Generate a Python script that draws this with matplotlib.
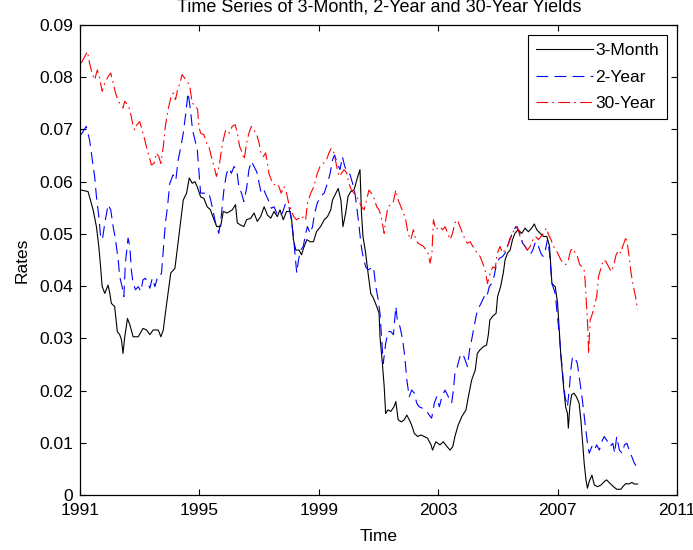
import matplotlib
matplotlib.use('Agg')
import matplotlib.pyplot as plt
import numpy as np

plt.rcParams['font.family'] = ['Liberation Sans', 'DejaVu Sans']
plt.rcParams['lines.scale_dashes'] = False

# 3-month T-bill
t_3m = [1991.04, 1991.27, 1991.44, 1991.55, 1991.63, 1991.69, 1991.74, 1991.83, 1991.94, 1992.00,
        1992.05, 1992.16, 1992.25, 1992.33, 1992.39, 1992.44, 1992.50, 1992.59, 1992.67, 1992.78,
        1992.95, 1993.11, 1993.23, 1993.34, 1993.45, 1993.62, 1993.71, 1993.79, 1993.86, 1993.95,
        1994.04, 1994.18, 1994.27, 1994.35, 1994.46, 1994.57, 1994.66, 1994.76, 1994.85, 1994.93,
        1995.04, 1995.15, 1995.26, 1995.37, 1995.49, 1995.58, 1995.71, 1995.80, 1995.93, 1996.10,
        1996.21, 1996.27, 1996.38, 1996.49, 1996.58, 1996.72, 1996.83, 1996.94, 1997.05, 1997.17,
        1997.28, 1997.39, 1997.50, 1997.61, 1997.70, 1997.81, 1997.92, 1998.04, 1998.09, 1998.15,
        1998.23, 1998.34, 1998.42, 1998.51, 1998.60, 1998.71, 1998.82, 1998.93, 1999.06, 1999.18,
        1999.29, 1999.40, 1999.46, 1999.57, 1999.65, 1999.74, 1999.81, 1999.90, 1999.98, 2000.07,
        2000.18, 2000.29, 2000.38, 2000.43, 2000.48, 2000.57, 2000.65, 2000.74, 2000.83, 2000.94,
        2001.02, 2001.05, 2001.13, 2001.19, 2001.24, 2001.32, 2001.41, 2001.52, 2001.58, 2001.66,
        2001.77, 2001.86, 2001.95, 2002.03, 2002.11, 2002.20, 2002.31, 2002.42, 2002.53, 2002.64,
        2002.76, 2002.81, 2002.92, 2003.06, 2003.17, 2003.29, 2003.40, 2003.49, 2003.56, 2003.67,
        2003.79, 2003.93, 2004.01, 2004.12, 2004.24, 2004.31, 2004.40, 2004.51, 2004.62, 2004.68,
        2004.73, 2004.82, 2004.94, 2004.99, 2005.09, 2005.18, 2005.24, 2005.32, 2005.41, 2005.49,
        2005.57, 2005.68, 2005.80, 2005.91, 2006.02, 2006.13, 2006.22, 2006.30, 2006.42, 2006.53,
        2006.64, 2006.73, 2006.81, 2006.92, 2007.00, 2007.05, 2007.11, 2007.16, 2007.22, 2007.27,
        2007.33, 2007.36, 2007.41, 2007.47, 2007.55, 2007.63, 2007.72, 2007.78, 2007.83, 2007.89,
        2007.95, 2008.00, 2008.06, 2008.15, 2008.23, 2008.34, 2008.45, 2008.57, 2008.64, 2008.76,
        2008.87, 2008.98, 2009.12, 2009.20, 2009.29, 2009.38, 2009.49, 2009.57, 2009.68]
r_3m = [0.0584, 0.0581, 0.0546, 0.0514, 0.0476, 0.0437, 0.0400, 0.0386, 0.0402, 0.0386,
        0.0367, 0.0361, 0.0313, 0.0307, 0.0297, 0.0271, 0.0303, 0.0338, 0.0326, 0.0303,
        0.0303, 0.0319, 0.0316, 0.0307, 0.0316, 0.0316, 0.0303, 0.0316, 0.0348, 0.0386,
        0.0425, 0.0434, 0.0476, 0.0514, 0.0565, 0.0578, 0.0607, 0.0597, 0.0600, 0.0590,
        0.0571, 0.0568, 0.0552, 0.0546, 0.0527, 0.0514, 0.0514, 0.0543, 0.0540, 0.0546,
        0.0556, 0.0521, 0.0517, 0.0514, 0.0527, 0.0530, 0.0540, 0.0524, 0.0533, 0.0552,
        0.0536, 0.0530, 0.0543, 0.0533, 0.0546, 0.0527, 0.0543, 0.0543, 0.0527, 0.0489,
        0.0469, 0.0469, 0.0460, 0.0476, 0.0489, 0.0485, 0.0485, 0.0505, 0.0514, 0.0527,
        0.0533, 0.0546, 0.0565, 0.0578, 0.0587, 0.0565, 0.0514, 0.0540, 0.0572, 0.0581,
        0.0584, 0.0607, 0.0623, 0.0540, 0.0495, 0.0463, 0.0425, 0.0386, 0.0377, 0.0361,
        0.0348, 0.0303, 0.0252, 0.0208, 0.0156, 0.0163, 0.0160, 0.0169, 0.0179, 0.0144,
        0.0140, 0.0144, 0.0153, 0.0144, 0.0134, 0.0118, 0.0112, 0.0115, 0.0112, 0.0109,
        0.0096, 0.0086, 0.0102, 0.0096, 0.0102, 0.0093, 0.0086, 0.0093, 0.0112, 0.0134,
        0.0150, 0.0163, 0.0188, 0.0220, 0.0239, 0.0271, 0.0278, 0.0284, 0.0287, 0.0307,
        0.0335, 0.0342, 0.0348, 0.0380, 0.0399, 0.0425, 0.0450, 0.0463, 0.0469, 0.0489,
        0.0501, 0.0508, 0.0501, 0.0511, 0.0504, 0.0511, 0.0519, 0.0508, 0.0501, 0.0495,
        0.0495, 0.0476, 0.0405, 0.0399, 0.0367, 0.0322, 0.0265, 0.0233, 0.0195, 0.0169,
        0.0156, 0.0128, 0.0169, 0.0192, 0.0195, 0.0188, 0.0176, 0.0144, 0.0105, 0.0061,
        0.0029, 0.0013, 0.0026, 0.0038, 0.0019, 0.0016, 0.0019, 0.0026, 0.0029, 0.0022,
        0.0016, 0.0011, 0.0011, 0.0017, 0.0022, 0.0021, 0.0024, 0.0021, 0.0021]

# 2-year note
t_2y = [1991.04, 1991.21, 1991.32, 1991.38, 1991.49, 1991.55, 1991.63, 1991.69, 1991.75, 1991.83,
        1991.94, 1992.03, 1992.11, 1992.19, 1992.28, 1992.33, 1992.41, 1992.47, 1992.52, 1992.61,
        1992.67, 1992.72, 1992.78, 1992.86, 1992.95, 1993.04, 1993.11, 1993.19, 1993.28, 1993.34,
        1993.42, 1993.51, 1993.60, 1993.67, 1993.73, 1993.79, 1993.86, 1993.93, 1994.01, 1994.12,
        1994.21, 1994.29, 1994.38, 1994.46, 1994.53, 1994.62, 1994.70, 1994.77, 1994.85, 1994.93,
        1994.98, 1995.04, 1995.15, 1995.32, 1995.43, 1995.54, 1995.65, 1995.73, 1995.82, 1995.91,
        1995.99, 1996.07, 1996.16, 1996.25, 1996.32, 1996.41, 1996.49, 1996.58, 1996.66, 1996.74,
        1996.83, 1996.92, 1997.00, 1997.07, 1997.16, 1997.25, 1997.33, 1997.41, 1997.50, 1997.59,
        1997.67, 1997.78, 1997.89, 1998.00, 1998.08, 1998.15, 1998.20, 1998.26, 1998.32, 1998.39,
        1998.48, 1998.56, 1998.62, 1998.71, 1998.79, 1998.86, 1998.95, 1999.06, 1999.18, 1999.29,
        1999.38, 1999.46, 1999.53, 1999.62, 1999.71, 1999.79, 1999.87, 1999.96, 2000.05, 2000.13,
        2000.21, 2000.27, 2000.35, 2000.41, 2000.46, 2000.57, 2000.65, 2000.74, 2000.83, 2000.91,
        2000.99, 2001.05, 2001.11, 2001.16, 2001.24, 2001.32, 2001.41, 2001.50, 2001.58, 2001.63,
        2001.72, 2001.81, 2001.88, 2001.95, 2002.03, 2002.11, 2002.20, 2002.28, 2002.36, 2002.48,
        2002.59, 2002.70, 2002.78, 2002.87, 2002.95, 2003.04, 2003.12, 2003.23, 2003.34, 2003.45,
        2003.51, 2003.56, 2003.64, 2003.73, 2003.82, 2003.90, 2003.98, 2004.05, 2004.12, 2004.20,
        2004.29, 2004.38, 2004.46, 2004.54, 2004.62, 2004.71, 2004.79, 2004.87, 2004.96, 2005.05,
        2005.16, 2005.24, 2005.32, 2005.41, 2005.49, 2005.60, 2005.68, 2005.76, 2005.83, 2005.91,
        2005.99, 2006.08, 2006.17, 2006.26, 2006.36, 2006.44, 2006.51, 2006.59, 2006.66, 2006.73,
        2006.81, 2006.92, 2007.03, 2007.11, 2007.19, 2007.25, 2007.33, 2007.39, 2007.44, 2007.50,
        2007.59, 2007.66, 2007.74, 2007.83, 2007.92, 2008.00, 2008.06, 2008.15, 2008.23, 2008.31,
        2008.40, 2008.48, 2008.56, 2008.68, 2008.76, 2008.85, 2008.91, 2008.98, 2009.07, 2009.16,
        2009.24, 2009.32, 2009.40, 2009.49, 2009.57, 2009.68]
r_2y = [0.0690, 0.0706, 0.0680, 0.0655, 0.0610, 0.0572, 0.0533, 0.0495, 0.0489, 0.0520,
        0.0556, 0.0546, 0.0514, 0.0489, 0.0450, 0.0418, 0.0399, 0.0380, 0.0444, 0.0492,
        0.0476, 0.0431, 0.0405, 0.0393, 0.0399, 0.0390, 0.0412, 0.0415, 0.0405, 0.0396,
        0.0415, 0.0399, 0.0418, 0.0418, 0.0425, 0.0469, 0.0520, 0.0552, 0.0597, 0.0613,
        0.0603, 0.0642, 0.0667, 0.0693, 0.0725, 0.0770, 0.0738, 0.0699, 0.0680, 0.0661,
        0.0623, 0.0578, 0.0578, 0.0578, 0.0552, 0.0521, 0.0501, 0.0533, 0.0584, 0.0616,
        0.0626, 0.0616, 0.0629, 0.0623, 0.0591, 0.0578, 0.0562, 0.0587, 0.0623, 0.0639,
        0.0629, 0.0619, 0.0597, 0.0578, 0.0584, 0.0572, 0.0562, 0.0549, 0.0552, 0.0540,
        0.0533, 0.0540, 0.0559, 0.0552, 0.0527, 0.0495, 0.0463, 0.0425, 0.0450, 0.0469,
        0.0476, 0.0501, 0.0514, 0.0501, 0.0514, 0.0540, 0.0559, 0.0572, 0.0578, 0.0597,
        0.0616, 0.0642, 0.0651, 0.0635, 0.0623, 0.0648, 0.0629, 0.0619, 0.0613, 0.0597,
        0.0578, 0.0552, 0.0514, 0.0482, 0.0463, 0.0437, 0.0431, 0.0434, 0.0437, 0.0399,
        0.0374, 0.0348, 0.0297, 0.0252, 0.0290, 0.0313, 0.0313, 0.0307, 0.0361, 0.0335,
        0.0322, 0.0297, 0.0265, 0.0220, 0.0188, 0.0201, 0.0195, 0.0176, 0.0169, 0.0166,
        0.0163, 0.0153, 0.0147, 0.0176, 0.0188, 0.0169, 0.0188, 0.0201, 0.0188, 0.0176,
        0.0201, 0.0233, 0.0246, 0.0265, 0.0271, 0.0259, 0.0246, 0.0278, 0.0297, 0.0322,
        0.0348, 0.0361, 0.0370, 0.0380, 0.0377, 0.0399, 0.0405, 0.0418, 0.0444, 0.0453,
        0.0457, 0.0463, 0.0476, 0.0492, 0.0501, 0.0514, 0.0508, 0.0498, 0.0482, 0.0476,
        0.0469, 0.0460, 0.0469, 0.0485, 0.0476, 0.0463, 0.0457, 0.0469, 0.0489, 0.0463,
        0.0405, 0.0386, 0.0322, 0.0271, 0.0220, 0.0188, 0.0169, 0.0201, 0.0239, 0.0265,
        0.0262, 0.0252, 0.0220, 0.0182, 0.0137, 0.0099, 0.0080, 0.0093, 0.0086, 0.0096,
        0.0086, 0.0102, 0.0112, 0.0102, 0.0093, 0.0099, 0.0080, 0.0112, 0.0086, 0.0080,
        0.0096, 0.0099, 0.0086, 0.0073, 0.0061, 0.0051]

# 30-year bond
t_30y = [1991.04, 1991.16, 1991.25, 1991.32, 1991.40, 1991.49, 1991.58, 1991.66, 1991.74, 1991.83,
         1991.94, 1992.03, 1992.11, 1992.19, 1992.28, 1992.37, 1992.44, 1992.50, 1992.59, 1992.67,
         1992.75, 1992.83, 1992.91, 1993.00, 1993.08, 1993.17, 1993.25, 1993.32, 1993.39, 1993.48,
         1993.56, 1993.64, 1993.71, 1993.79, 1993.86, 1993.95, 1994.04, 1994.12, 1994.20, 1994.27,
         1994.35, 1994.42, 1994.51, 1994.60, 1994.68, 1994.76, 1994.85, 1994.94, 1994.98, 1995.04,
         1995.15, 1995.24, 1995.32, 1995.40, 1995.49, 1995.57, 1995.66, 1995.74, 1995.80, 1995.88,
         1996.00, 1996.10, 1996.20, 1996.27, 1996.35, 1996.42, 1996.50, 1996.58, 1996.66, 1996.74,
         1996.83, 1996.92, 1997.00, 1997.06, 1997.14, 1997.22, 1997.28, 1997.33, 1997.41, 1997.50,
         1997.58, 1997.66, 1997.74, 1997.83, 1997.92, 1997.99, 1998.07, 1998.16, 1998.25, 1998.33,
         1998.41, 1998.48, 1998.56, 1998.62, 1998.73, 1998.84, 1998.95, 1999.04, 1999.15, 1999.26,
         1999.34, 1999.42, 1999.51, 1999.60, 1999.68, 1999.76, 1999.85, 1999.94, 2000.01, 2000.09,
         2000.18, 2000.27, 2000.35, 2000.43, 2000.52, 2000.60, 2000.68, 2000.76, 2000.85, 2000.94,
         2001.02, 2001.09, 2001.19, 2001.24, 2001.32, 2001.41, 2001.50, 2001.58, 2001.66, 2001.75,
         2001.84, 2001.91, 2001.99, 2002.08, 2002.17, 2002.25, 2002.33, 2002.42, 2002.51, 2002.59,
         2002.66, 2002.73, 2002.79, 2002.84, 2002.92, 2003.04, 2003.15, 2003.23, 2003.32, 2003.40,
         2003.48, 2003.56, 2003.64, 2003.73, 2003.82, 2003.90, 2003.98, 2004.07, 2004.16, 2004.24,
         2004.31, 2004.40, 2004.49, 2004.57, 2004.65, 2004.74, 2004.83, 2004.91, 2004.98, 2005.07,
         2005.16, 2005.24, 2005.32, 2005.41, 2005.49, 2005.57, 2005.65, 2005.74, 2005.83, 2005.91,
         2005.99, 2006.08, 2006.17, 2006.26, 2006.36, 2006.44, 2006.53, 2006.62, 2006.70, 2006.78,
         2006.86, 2006.95, 2007.03, 2007.11, 2007.19, 2007.27, 2007.36, 2007.44, 2007.52, 2007.59,
         2007.66, 2007.74, 2007.83, 2007.89, 2007.92, 2007.97, 2008.01, 2008.04, 2008.09, 2008.17,
         2008.25, 2008.31, 2008.37, 2008.45, 2008.53, 2008.62, 2008.71, 2008.79, 2008.87, 2008.96,
         2009.05, 2009.12, 2009.18, 2009.24, 2009.29, 2009.35, 2009.41, 2009.46, 2009.54, 2009.61,
         2009.68]
r_30y = [0.0827, 0.0840, 0.0849, 0.0827, 0.0808, 0.0795, 0.0814, 0.0798, 0.0773, 0.0789,
         0.0801, 0.0808, 0.0789, 0.0770, 0.0754, 0.0747, 0.0741, 0.0754, 0.0747, 0.0738,
         0.0715, 0.0699, 0.0709, 0.0715, 0.0699, 0.0680, 0.0661, 0.0648, 0.0632, 0.0635,
         0.0655, 0.0648, 0.0635, 0.0667, 0.0706, 0.0738, 0.0760, 0.0770, 0.0757, 0.0776,
         0.0789, 0.0805, 0.0798, 0.0792, 0.0782, 0.0750, 0.0747, 0.0738, 0.0706, 0.0693,
         0.0690, 0.0674, 0.0667, 0.0648, 0.0629, 0.0610, 0.0629, 0.0661, 0.0680, 0.0699,
         0.0693, 0.0706, 0.0709, 0.0693, 0.0667, 0.0658, 0.0642, 0.0674, 0.0693, 0.0706,
         0.0699, 0.0690, 0.0674, 0.0655, 0.0648, 0.0655, 0.0635, 0.0616, 0.0603, 0.0594,
         0.0597, 0.0591, 0.0578, 0.0591, 0.0578, 0.0559, 0.0546, 0.0533, 0.0527, 0.0530,
         0.0527, 0.0533, 0.0527, 0.0559, 0.0578, 0.0591, 0.0616, 0.0629, 0.0635, 0.0642,
         0.0655, 0.0664, 0.0655, 0.0629, 0.0610, 0.0616, 0.0623, 0.0616, 0.0597, 0.0584,
         0.0578, 0.0572, 0.0562, 0.0552, 0.0546, 0.0565, 0.0584, 0.0578, 0.0568, 0.0552,
         0.0546, 0.0533, 0.0501, 0.0527, 0.0552, 0.0556, 0.0562, 0.0584, 0.0565, 0.0552,
         0.0540, 0.0527, 0.0501, 0.0489, 0.0508, 0.0489, 0.0482, 0.0479, 0.0476, 0.0469,
         0.0463, 0.0444, 0.0463, 0.0527, 0.0508, 0.0514, 0.0508, 0.0514, 0.0501, 0.0489,
         0.0501, 0.0521, 0.0527, 0.0514, 0.0501, 0.0489, 0.0482, 0.0485, 0.0476, 0.0469,
         0.0463, 0.0457, 0.0444, 0.0431, 0.0405, 0.0425, 0.0437, 0.0434, 0.0463, 0.0476,
         0.0463, 0.0469, 0.0476, 0.0489, 0.0501, 0.0511, 0.0514, 0.0495, 0.0482, 0.0476,
         0.0469, 0.0476, 0.0489, 0.0495, 0.0489, 0.0495, 0.0501, 0.0511, 0.0498, 0.0489,
         0.0476, 0.0469, 0.0460, 0.0450, 0.0444, 0.0441, 0.0450, 0.0469, 0.0472, 0.0463,
         0.0457, 0.0441, 0.0437, 0.0431, 0.0412, 0.0361, 0.0322, 0.0271, 0.0335, 0.0348,
         0.0367, 0.0380, 0.0418, 0.0434, 0.0450, 0.0447, 0.0437, 0.0428, 0.0437, 0.0460,
         0.0469, 0.0463, 0.0476, 0.0485, 0.0495, 0.0476, 0.0450, 0.0425, 0.0399, 0.0380,
         0.0355]

fig = plt.figure(figsize=(6.93, 5.5), dpi=100)
ax = fig.add_axes([80 / 693, 55 / 550, 597 / 693, 470 / 550])

ax.plot(t_3m, r_3m, color='k', lw=0.8, label='3-Month')
ax.plot(t_2y, r_2y, color='b', lw=0.8, dashes=(8.5, 4.5), label='2-Year')
ax.plot(t_30y, r_30y, color='r', lw=0.8, dashes=(8.5, 3, 1.2, 3), label='30-Year')

ax.set_xlim(1991, 2011)
ax.set_ylim(0, 0.09)
ax.set_xticks(np.arange(1991, 2012, 4))
yt = np.arange(0, 0.0901, 0.01)
ax.set_yticks(yt)
ax.set_yticklabels(['0'] + ['%.2f' % v for v in yt[1:]])
ax.tick_params(direction='in', top=True, right=True, length=4, width=0.8,
               labelsize=12.5, pad=5)
ax.tick_params(axis='x', pad=6)
for s in ax.spines.values():
    s.set_linewidth(0.9)

ax.set_xlabel('Time', fontsize=12.5, labelpad=8)
ax.set_ylabel('Rates', fontsize=12.5, labelpad=7)
fig.text(379 / 693, 1 - 12 / 550, 'Time Series of 3-Month, 2-Year and 30-Year Yields',
         ha='center', va='baseline', fontsize=13)

leg = ax.legend(loc='upper right', fancybox=False, edgecolor='k', framealpha=1,
                fontsize=12.5, handlelength=3.3, handletextpad=0.1,
                labelspacing=0.65, borderpad=0.45, borderaxespad=0.6)
leg.get_frame().set_linewidth(0.8)

fig.savefig('out.png', dpi=100)
